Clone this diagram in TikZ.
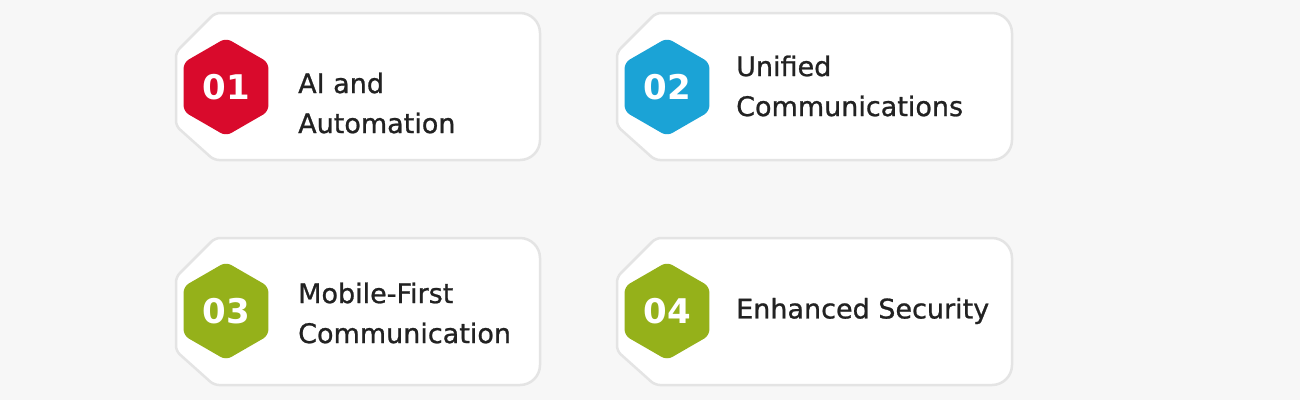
\documentclass[tikz,border=0pt]{standalone}
\usepackage{fontspec}
\setmainfont{DejaVu Sans}
\newfontfamily\medfont{DejaVu Sans}[FakeBold=0.9]
\usetikzlibrary{shapes.geometric}

\definecolor{pagegray}{HTML}{F7F7F7}
\definecolor{cardedge}{HTML}{E4E4E4}
\definecolor{textdark}{HTML}{222222}
\definecolor{hexred}{HTML}{D90A2C}
\definecolor{hexblue}{HTML}{1BA3D6}
\definecolor{hexgreen}{HTML}{95B11A}

% tag shaped card: #1 left, #2 top, #3 right
\newcommand{\tagcard}[3]{%
\draw[card] (#1+39,#2) [rounded corners=20pt] -- (#3,#2) -- (#3,#2+147)
  [rounded corners=5pt] -- (#1+38,#2+147) -- (#1,#2+113) -- (#1,#2+39) -- cycle;}

\begin{document}
\begin{tikzpicture}[x=1pt,y=-1pt]
\tikzstyle{card} = [draw=cardedge, line width=2.5pt, fill=white]
\tikzstyle{hexa} = [regular polygon, regular polygon sides=6, shape border rotate=30,
minimum size=98pt, inner sep=0pt, rounded corners=6pt, text=white,
font=\bfseries\fontsize{34}{34}\selectfont]
\tikzstyle{cardtext} = [anchor=west, align=left, text=textdark,
font=\medfont\fontsize{27}{40}\selectfont, inner sep=0pt]

\fill[pagegray] (0,0) rectangle (1300,400);

% row 1
\tagcard{176}{13}{540}
\tagcard{617}{13}{1012}
\node [hexa, fill=hexred] (num1) at (226,87) {01};
\node [cardtext] (item1) at (298,103) {AI and\\Automation};
\node [hexa, fill=hexblue] (num2) at (667,87) {02};
\node [cardtext] (item2) at (736,86) {Unified\\Communications};

% row 2
\tagcard{176}{238}{540}
\tagcard{617}{238}{1012}
\node [hexa, fill=hexgreen] (num3) at (226,311) {03};
\node [cardtext] (item3) at (298,313) {Mobile-First\\Communication};
\node [hexa, fill=hexgreen] (num4) at (667,311) {04};
\node [cardtext] (item4) at (736,311) {Enhanced Security};

\end{tikzpicture}
\end{document}
